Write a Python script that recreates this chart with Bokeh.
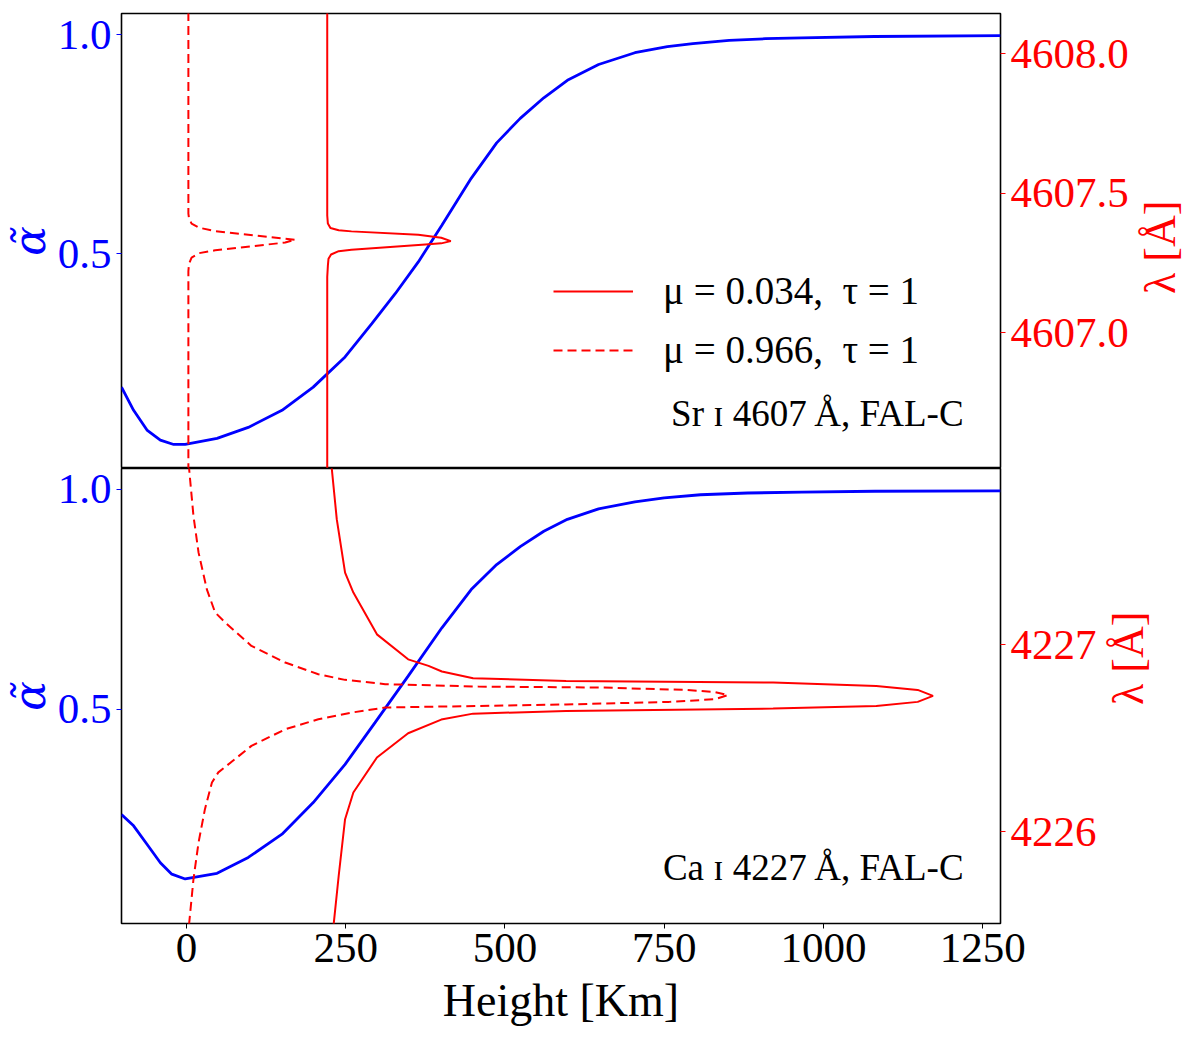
import math

from bokeh.embed import file_html
from bokeh.layouts import column, row
from bokeh.models import (FixedTicker, Label, Legend, LegendItem, LinearAxis,
                          PrintfTickFormatter, Range1d)
from bokeh.plotting import figure
from bokeh.resources import INLINE

# Sr I 4607 (top panel): alpha-tilde vs height
sr_h_alpha = [-102, -83, -62, -41, -20, -2, 48, 97, 150, 199, 249, 291, 328, 364, 401,
              447, 487, 524, 561, 598, 647, 704, 755, 795, 852, 909, 966, 1080, 1278]
sr_alpha = [0.195, 0.142, 0.097, 0.074, 0.064, 0.064, 0.078, 0.103, 0.142, 0.195, 0.264,
            0.340, 0.409, 0.481, 0.565, 0.672, 0.753, 0.809, 0.856, 0.896, 0.932, 0.959,
            0.973, 0.980, 0.987, 0.991, 0.993, 0.996, 0.998]
# tau = 1 formation height vs wavelength
sr_h_mu034 = [221, 221, 222, 223, 227, 239, 259, 375, 400, 415, 400, 364, 259, 239, 226,
              222, 221, 221]
sr_lam_mu034 = [4606.50, 4607.20, 4607.240, 4607.265, 4607.280, 4607.292, 4607.297,
                4607.316, 4607.320, 4607.328, 4607.340, 4607.351, 4607.363, 4607.367,
                4607.375, 4607.391, 4607.420, 4608.16]
sr_h_mu966 = [3, 3, 4, 8, 20, 45, 155, 171, 45, 20, 8, 4, 3, 3]
sr_lam_mu966 = [4606.50, 4607.22, 4607.247, 4607.269, 4607.285, 4607.295, 4607.323,
                4607.333, 4607.364, 4607.376, 4607.391, 4607.410, 4607.427, 4608.16]

# Ca I 4227 (bottom panel)
ca_h_alpha = [-102, -83, -62, -41, -23, -2, 48, 97, 150, 199, 249, 296, 348, 401, 447,
              487, 524, 561, 598, 647, 704, 750, 807, 881, 966, 1080, 1278]
ca_alpha = [0.260, 0.234, 0.192, 0.150, 0.124, 0.113, 0.126, 0.162, 0.215, 0.287, 0.374,
            0.469, 0.575, 0.685, 0.772, 0.829, 0.870, 0.905, 0.932, 0.956, 0.972, 0.981,
            0.988, 0.992, 0.994, 0.996, 0.997]
ca_h_mu034 = [231, 239, 249, 262, 299, 348, 400, 450, 596, 921, 1083, 1148, 1172, 1148,
              1083, 921, 596, 450, 401, 380, 348, 299, 262, 249, 236, 228]
ca_lam_mu034 = [4225.50, 4225.763, 4226.066, 4226.209, 4226.397, 4226.527, 4226.600,
                4226.632, 4226.646, 4226.659, 4226.673, 4226.695, 4226.727, 4226.759,
                4226.780, 4226.799, 4226.807, 4226.822, 4226.858, 4226.888, 4226.923,
                4227.057, 4227.281, 4227.388, 4227.673, 4227.95]
ca_h_mu966 = [4, 11, 19, 29, 40, 50, 102, 155, 207, 260, 312, 458, 596, 758, 829, 850,
              829, 785, 650, 458, 312, 249, 207, 155, 102, 61, 45, 32, 19, 11, 4]
ca_lam_mu966 = [4225.50, 4225.745, 4225.942, 4226.120, 4226.263, 4226.317, 4226.459,
                4226.548, 4226.602, 4226.638, 4226.665, 4226.673, 4226.681, 4226.695,
                4226.709, 4226.731, 4226.748, 4226.759, 4226.772, 4226.777, 4226.790,
                4226.813, 4226.843, 4226.906, 4226.995, 4227.120, 4227.174, 4227.298,
                4227.495, 4227.691, 4227.95]

x_ticks = [0, 250, 500, 750, 1000, 1250]
alpha_ticks = [0.5, 1.0]
sr_lam_ticks = [4607.0, 4607.5, 4608.0]
ca_lam_ticks = [4226, 4227]

legend_labels = ["\u03bc = 0.034,  \u03c4 = 1", "\u03bc = 0.966,  \u03c4 = 1"]
sr_note = "Sr \u026a 4607\u2009\u00c5, FAL-C"
ca_note = "Ca \u026a 4227\u2009\u00c5, FAL-C"
lam_title = "\u03bb [\u00c5]"
alpha_title = "\u03b1\u0303"

FONT = "Liberation Serif"
BLUE = "#0000ff"
RED = "#ff0000"
DASH = "9 5"
FRAME_H = 455
OVERLAP = 14        # bottom row slides up by this much so both frames share one edge
BOTTOM_B = 110


def style_axis(ax, color, fmt, ticks, size="43px"):
    ax.ticker = FixedTicker(ticks=ticks)
    ax.formatter = PrintfTickFormatter(format=fmt)
    ax.axis_line_color = None
    ax.major_tick_line_color = color
    ax.major_tick_out = 5
    ax.major_tick_in = 0
    ax.minor_tick_line_color = None
    ax.major_label_text_color = color
    ax.major_label_text_font = FONT
    ax.major_label_text_font_size = size
    ax.major_label_standoff = 5
    ax.axis_label_text_color = color
    ax.axis_label_text_font = FONT
    ax.axis_label_text_font_style = "normal"


x_range = Range1d(-102, 1278)


def make_panel(alpha_lim, lam_lim, lam_ticks, lam_fmt, bottom):
    p = figure(frame_width=879, frame_height=FRAME_H, x_range=x_range,
               y_range=Range1d(*alpha_lim), output_backend="svg",
               toolbar_location=None, tools="",
               x_axis_location="below" if bottom else None,
               min_border_left=115, min_border_right=0,
               min_border_top=OVERLAP if bottom else 13,
               min_border_bottom=BOTTOM_B if bottom else 0)
    p.extra_y_ranges = {"lam": Range1d(*lam_lim)}
    p.add_layout(LinearAxis(y_range_name="lam"), "right")
    p.grid.visible = False
    p.outline_line_color = "black"
    p.outline_line_width = 1.6
    p.background_fill_color = "white"
    if bottom:
        p.border_fill_alpha = 0
    else:
        p.border_fill_color = "white"

    left = p.yaxis[0]
    style_axis(left, BLUE, "%.1f", alpha_ticks)
    left.axis_label = alpha_title
    left.axis_label_text_font = "DejaVu Serif"
    left.axis_label_text_font_size = "44px"
    left.axis_label_text_font_style = "italic"
    left.axis_label_standoff = 0

    style_axis(p.yaxis[1], RED, lam_fmt, lam_ticks)

    if bottom:
        xa = p.xaxis[0]
        style_axis(xa, "black", "%d", x_ticks)
        xa.axis_label = "Height [Km]"
        xa.axis_label_text_font_size = "46px"
        xa.axis_label_standoff = 10
    return p


def make_lam_title(height, y_center):
    # narrow strip to the right of a panel carrying the rotated wavelength title
    f = figure(width=58, height=height, x_range=Range1d(0, 1), y_range=Range1d(height, 0),
               output_backend="svg", toolbar_location=None, tools="", min_border=0,
               x_axis_location=None, y_axis_location=None)
    f.grid.visible = False
    f.outline_line_color = None
    f.background_fill_alpha = 0
    f.border_fill_alpha = 0
    f.add_layout(Label(x=0.5, y=y_center, text=lam_title, angle=math.pi / 2,
                       text_align="center", text_baseline="middle", text_font=FONT,
                       text_font_size="44px", text_color=RED))
    return f


top = make_panel((0.0091, 1.0486), (4606.513, 4608.144), sr_lam_ticks, "%.1f", False)
top.line(sr_h_alpha, sr_alpha, line_color=BLUE, line_width=2.8)
r1 = top.line(sr_h_mu034, sr_lam_mu034, y_range_name="lam", line_color=RED, line_width=2)
r2 = top.line(sr_h_mu966, sr_lam_mu966, y_range_name="lam", line_color=RED, line_width=2,
              line_dash=DASH)

legend = Legend(items=[LegendItem(label=legend_labels[0], renderers=[r1]),
                       LegendItem(label=legend_labels[1], renderers=[r2])],
                location=(432, 96), margin=0, padding=0, spacing=14,
                glyph_width=80, glyph_height=40, label_height=40, label_standoff=30,
                label_text_font=FONT, label_text_font_size="39px",
                label_text_color="black",
                border_line_color=None, background_fill_alpha=0)
top.add_layout(legend, "center")
top.add_layout(Label(x=1220, y=0.135, text=sr_note, text_align="right",
                     text_baseline="alphabetic", text_font=FONT, text_font_size="37px",
                     text_color="black"))

bot = make_panel((0.0116, 1.0478), (4225.507, 4227.946), ca_lam_ticks, "%d", True)
bot.line(ca_h_alpha, ca_alpha, line_color=BLUE, line_width=2.8)
bot.line(ca_h_mu034, ca_lam_mu034, y_range_name="lam", line_color=RED, line_width=2)
bot.line(ca_h_mu966, ca_lam_mu966, y_range_name="lam", line_color=RED, line_width=2,
         line_dash=DASH)
bot.add_layout(Label(x=1220, y=0.140, text=ca_note, text_align="right",
                     text_baseline="alphabetic", text_font=FONT, text_font_size="37px",
                     text_color="black"))

top_row = row(top, make_lam_title(13 + FRAME_H, 13 + FRAME_H / 2))
bot_row = row(bot, make_lam_title(OVERLAP + FRAME_H + BOTTOM_B, OVERLAP + FRAME_H / 2))
bot_row.margin = (-OVERLAP, 0, 0, 0)

layout = column(top_row, bot_row, spacing=0)
open("out.html", "w").write(file_html(layout, INLINE))
